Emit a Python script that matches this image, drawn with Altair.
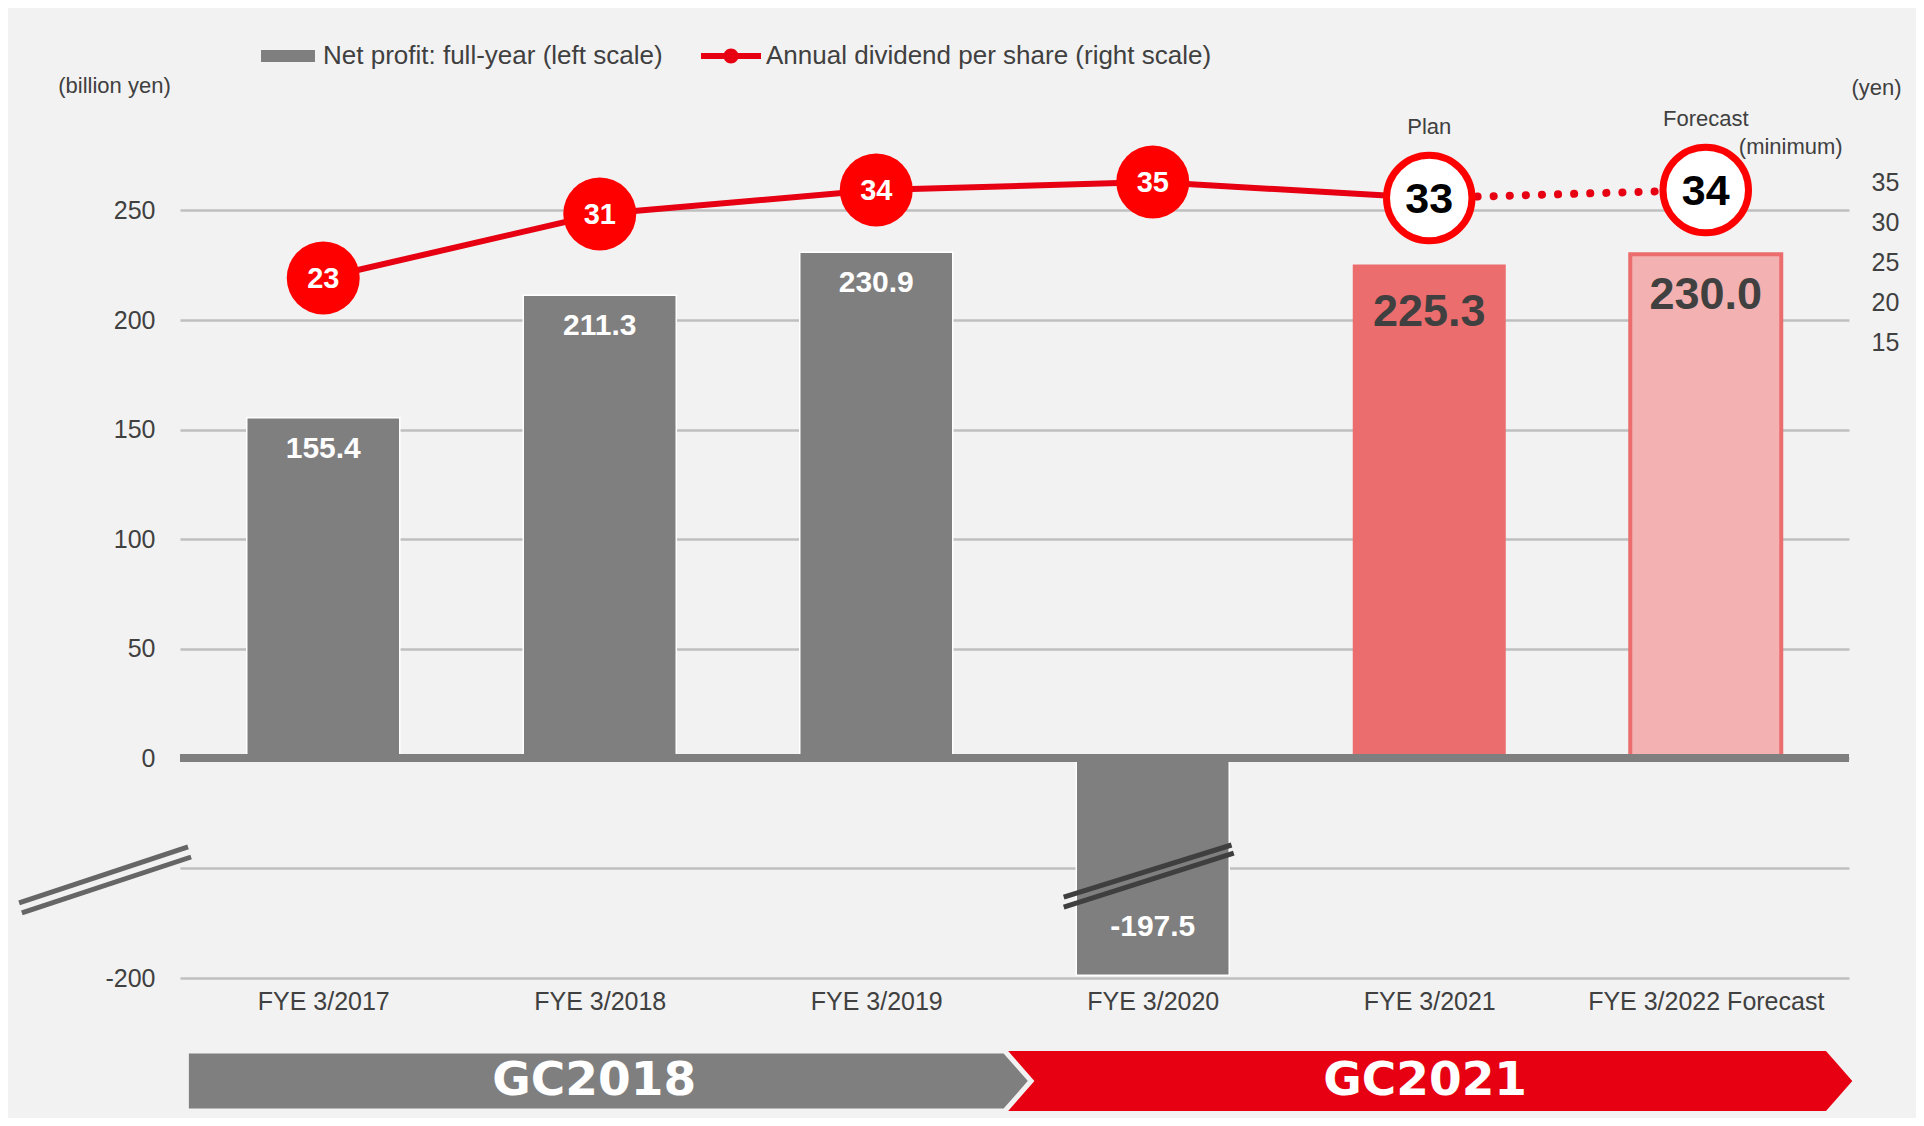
import json
import altair as alt
import pandas as pd

# ---------------- data ----------------
categories = ["FYE 3/2017", "FYE 3/2018", "FYE 3/2019", "FYE 3/2020", "FYE 3/2021", "FYE 3/2022 Forecast"]
net_profit = [155.4, 211.3, 230.9, -197.5, 225.3, 230.0]
profit_labels = ["155.4", "211.3", "230.9", "-197.5", "225.3", "230.0"]
dividend = [23, 31, 34, 35, 33, 34]
kind = ["actual", "actual", "actual", "actual", "plan", "forecast"]
notes = ["", "", "", "", "Plan", "Forecast"]
notes_min = ["", "", "", "", "", "(minimum)"]

left_ticks = [-200, -100, 0, 50, 100, 150, 200, 250]
right_ticks = [15, 20, 25, 30, 35]

series_names = ["Net profit: full-year (left scale)", "Annual dividend per share (right scale)"]

# period banners (x in category-index units, y in left-scale units)
banner_names = ["GC2018", "GC2021"]
banner_centers = [0.98, 3.985]
gc2018_x = [-0.495, 2.465, 2.56]
gc2021_x = [2.465, 5.435, 5.53]
banner_top = [-266.4, -266.4, -293.6]
banner_bottom = [-320.9, -320.9, -293.6]
banner_mid = -293.6

# axis-break marks
break_x1 = [-1.100, -1.090, 2.678, 2.678]
break_x2 = [-0.489, -0.478, 3.285, 3.293]
break_y1 = [-131.8, -140.9, -126.4, -135.5]
break_y2 = [-80.9, -90.0, -79.1, -86.4]
break_part = ["axis", "axis", "bar", "bar"]

# ---------------- setup ----------------
FONT = "Liberation Sans, Arial, sans-serif"
TXT = "#404040"
W, H = 1669, 877

df = pd.DataFrame({
    "idx": list(range(len(categories))),
    "category": categories,
    "profit": net_profit,
    "plabel": profit_labels,
    "dividend": dividend,
    "kind": kind,
    "note": notes,
    "note_min": notes_min,
})

xscale = alt.Scale(domain=[-0.5, 5.5], nice=False, zero=False)
yleft = alt.Scale(domain=[-200, 0, 300], range=[H, H - 220, 0], nice=False, zero=True)
yright = alt.Scale(domain=[15, 35], range=[241, 81], nice=False, zero=False)

x_axis = alt.Axis(values=list(range(len(categories))),
                  labelExpr=f"{json.dumps(categories)}[datum.value]",
                  title=None, grid=False, domain=False, ticks=False, labelLimit=500,
                  labelPadding=11, labelFontSize=25, labelColor=TXT, labelFont=FONT)

yl_axis = alt.Axis(values=left_ticks,
                   labelExpr="datum.value == -100 ? '' : (datum.value == -200 ? '-200\u00a0\u00a0' : toString(datum.value))",
                   title="(billion yen)", titleAngle=0, titleX=-66, titleY=-16,
                   titleAlign="center", titleBaseline="middle", titleFontSize=22,
                   titleFontWeight="normal", titleColor=TXT, titleFont=FONT,
                   grid=True, gridColor="#bfbfbf", gridWidth=2.5, domain=False, ticks=False,
                   labelPadding=25, labelFontSize=25, labelColor=TXT, labelFont=FONT)

yr_axis = alt.Axis(values=right_ticks, orient="right",
                   title="(yen)", titleAngle=0, titleX=27, titleY=-14,
                   titleAlign="center", titleBaseline="middle", titleFontSize=22,
                   titleFontWeight="normal", titleColor=TXT, titleFont=FONT,
                   grid=False, domain=False, ticks=False, labelAlign="left",
                   labelPadding=22, labelFontSize=25, labelColor=TXT, labelFont=FONT)


def X(field):
    return alt.X(f"{field}:Q", scale=xscale, axis=x_axis)


def YL(field):
    return alt.Y(f"{field}:Q", scale=yleft, axis=yl_axis)


def YR(field):
    return alt.Y(f"{field}:Q", scale=yright, axis=yr_axis)


base = alt.Chart(df)

# ---------------- banners ----------------
b21 = pd.DataFrame({"bx": gc2021_x, "btop": banner_top, "bbot": banner_bottom})
b18 = pd.DataFrame({"bx": gc2018_x, "btop": banner_top, "bbot": banner_bottom})
area21 = alt.Chart(b21).mark_area(color="#e60012", interpolate="linear").encode(
    x=X("bx"), y=YL("btop"), y2="bbot:Q")
area18 = alt.Chart(b18).mark_area(color="#7f7f7f", stroke="#f2f2f2", strokeWidth=5,
                                  interpolate="linear").encode(
    x=X("bx"), y=YL("btop"), y2="bbot:Q")
btext = alt.Chart(pd.DataFrame({"bname": banner_names, "bx": banner_centers,
                                "by": [banner_mid] * len(banner_names)})).mark_text(
    font="DejaVu Sans", fontWeight="bold", fontSize=47, color="white", baseline="middle"
).encode(x=X("bx"), y=YL("by"), text="bname:N")

# ---------------- bars ----------------
bars_actual = base.transform_filter("datum.kind == 'actual'").mark_bar(
    width=153, color="#7f7f7f", stroke="#ffffff", strokeWidth=1.5
).encode(x=X("idx"), y=YL("profit"))
bar_plan = base.transform_filter("datum.kind == 'plan'").mark_bar(
    width=153, color="#ec6d6d"
).encode(x=X("idx"), y=YL("profit"))
bar_fc = base.transform_filter("datum.kind == 'forecast'").mark_bar(
    width=151, fill="#f4b1b1", stroke="#ec6d6d", strokeWidth=4
).encode(x=X("idx"), y=YL("profit"))

lab_pos = base.transform_filter("datum.kind == 'actual' && datum.profit > 0").mark_text(
    font=FONT, fontSize=30, fontWeight="bold", color="white", baseline="middle", dy=31
).encode(x=X("idx"), y=YL("profit"), text="plabel:N")
lab_neg = base.transform_filter("datum.profit < 0").mark_text(
    font=FONT, fontSize=30, fontWeight="bold", color="white", baseline="middle", dy=-48
).encode(x=X("idx"), y=YL("profit"), text="plabel:N")
lab_plan = base.transform_filter("datum.kind == 'plan'").mark_text(
    font=FONT, fontSize=45, fontWeight="bold", color=TXT, baseline="middle", dy=47
).encode(x=X("idx"), y=YL("profit"), text="plabel:N")
lab_fc = base.transform_filter("datum.kind == 'forecast'").mark_text(
    font=FONT, fontSize=45, fontWeight="bold", color=TXT, baseline="middle", dy=41
).encode(x=X("idx"), y=YL("profit"), text="plabel:N")

zero_rule = alt.Chart(pd.DataFrame({"zero": [0]})).mark_rule(color="#7f7f7f", strokeWidth=8).encode(
    y=YL("zero"))

brk = pd.DataFrame({"x1": break_x1, "x2": break_x2, "y1": break_y1, "y2": break_y2, "part": break_part})
brk_axis = alt.Chart(brk).transform_filter("datum.part == 'axis'").mark_rule(
    strokeWidth=5, color="#666666").encode(x=X("x1"), x2="x2:Q", y=YL("y1"), y2="y2:Q")
brk_bar = alt.Chart(brk).transform_filter("datum.part == 'bar'").mark_rule(
    strokeWidth=5, color="#3f3f3f").encode(x=X("x1"), x2="x2:Q", y=YL("y1"), y2="y2:Q")

# ---------------- legend ----------------
rect_path = "M-0.9,-0.2L0.9,-0.2L0.9,0.2L-0.9,0.2Z"
linedot_path = ("M-1,-0.1L1,-0.1L1,0.1L-1,0.1Z "
                "M-0.25,0A0.25,0.25,0,1,1,0.25,0A0.25,0.25,0,1,1,-0.25,0Z")
leg = alt.Legend(orient="none", legendX=78, legendY=-75, direction="horizontal", title=None,
                 labelFontSize=26, labelColor=TXT, labelFont=FONT, symbolSize=3600,
                 symbolOpacity=1, symbolStrokeWidth=0, labelOffset=5, columnPadding=38,
                 padding=0, labelLimit=800)
legend_layer = alt.Chart(pd.DataFrame({"series": series_names})).mark_point(
    filled=True, opacity=0).encode(
    x=alt.value(0), y=alt.value(0),
    color=alt.Color("series:N", scale=alt.Scale(domain=series_names, range=["#7f7f7f", "#e60012"]), legend=leg),
    shape=alt.Shape("series:N", scale=alt.Scale(domain=series_names, range=[rect_path, linedot_path]), legend=leg),
)

left_group = alt.layer(area21, area18, btext, bars_actual, bar_plan, bar_fc,
                       lab_pos, lab_neg, lab_plan, lab_fc,
                       zero_rule, brk_axis, brk_bar, legend_layer)

# ---------------- dividend ----------------
line_solid = base.transform_filter("datum.kind != 'forecast'").mark_line(
    color="#e60012", strokeWidth=6).encode(x=X("idx"), y=YR("dividend"))
line_dot = base.transform_filter("datum.kind != 'actual'").mark_line(
    color="#e60012", strokeWidth=8, strokeDash=[0.1, 16], strokeCap="round"
).encode(x=X("idx"), y=YR("dividend"))

note_txt = base.transform_filter("datum.note != ''").mark_text(
    font=FONT, fontSize=22, color=TXT, baseline="middle", dy=-71
).encode(x=X("idx"), y=YR("dividend"), text="note:N")
note_min_txt = base.transform_filter("datum.note_min != ''").mark_text(
    font=FONT, fontSize=22, color=TXT, baseline="middle", dx=85, dy=-43
).encode(x=X("idx"), y=YR("dividend"), text="note_min:N")

pts_red = base.transform_filter("datum.kind == 'actual'").mark_circle(
    color="#ff0000", size=5329, opacity=1).encode(x=X("idx"), y=YR("dividend"))
pts_white = base.transform_filter("datum.kind != 'actual'").mark_circle(
    fill="white", stroke="#ff0000", strokeWidth=7, size=7310, opacity=1
).encode(x=X("idx"), y=YR("dividend"))

plab_red = base.transform_filter("datum.kind == 'actual'").mark_text(
    font=FONT, fontSize=29, fontWeight="bold", color="white", baseline="middle", dy=1
).encode(x=X("idx"), y=YR("dividend"), text="dividend:Q")
plab_white = base.transform_filter("datum.kind != 'actual'").mark_text(
    font=FONT, fontSize=43, fontWeight="bold", color="black", baseline="middle", dy=2
).encode(x=X("idx"), y=YR("dividend"), text="dividend:Q")

right_group = alt.layer(line_solid, line_dot, note_txt, note_min_txt,
                        pts_red, pts_white, plab_red, plab_white)

chart = alt.layer(left_group, right_group).resolve_scale(y="independent").properties(
    width=W, height=H,
    padding={"left": 172, "top": 93, "right": 67, "bottom": 140},
    autosize=alt.AutoSizeParams(type="none"),
    background="#f2f2f2",
).configure_view(strokeWidth=0)

chart.save("out.html", embed_options={"renderer": "svg", "actions": False})
